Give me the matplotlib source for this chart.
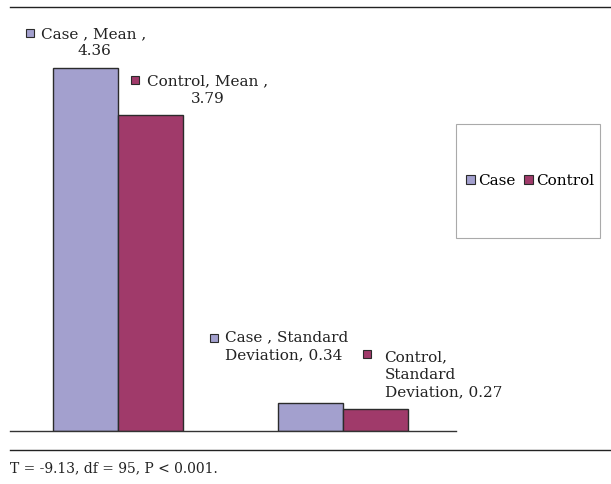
import matplotlib
matplotlib.use("Agg")
import matplotlib.pyplot as plt
from matplotlib.patches import Rectangle, Patch
from matplotlib.lines import Line2D
from matplotlib.transforms import offset_copy

groups = ["Mean", "Standard Deviation"]
series = ["Case", "Control"]
case_vals = [4.36, 0.34]
control_vals = [3.79, 0.27]
footnote = "T = -9.13, df = 95, P < 0.001."

case_color = "#A3A0CE"
control_color = "#A03A6A"
edge = "#2b2b2b"

W, H = 611, 484
plt.rcParams['font.family'] = ['DejaVu Serif']
fig = plt.figure(figsize=(W / 100, H / 100), dpi=100)

def fx(px):
    return px / W

def fy(py):
    return 1 - py / H

ax = fig.add_axes([fx(10), fy(431), fx(456) - fx(10), fy(20) - fy(431)])
w = 0.289
x = [0, 1]
ax.bar([xi - w / 2 for xi in x], case_vals, width=w, color=case_color,
       edgecolor=edge, linewidth=1.0, zorder=2)
ax.bar([xi + w / 2 for xi in x], control_vals, width=w, color=control_color,
       edgecolor=edge, linewidth=1.0, zorder=2)
ax.set_xlim(-0.48, 1.502)
ax.set_ylim(0, (431 - 20) / 83.3)
for s in ["top", "right", "left"]:
    ax.spines[s].set_visible(False)
ax.spines["bottom"].set_color("#333333")
ax.spines["bottom"].set_linewidth(1.0)
ax.set_xticks([])
ax.set_yticks([])

fs = 11

def label(xd, yd, text, tdx, tdy, mdx, mdy, color, ha):
    tt = offset_copy(ax.transData, fig=fig, x=tdx, y=tdy, units='dots')
    ax.text(xd, yd, text, transform=tt, ha=ha, va='center', fontsize=fs,
            color="#222222", linespacing=1.3)
    mt = offset_copy(ax.transData, fig=fig, x=mdx, y=mdy, units='dots')
    ax.plot([xd], [yd], marker='s', markersize=6, markerfacecolor=color,
            markeredgecolor=edge, markeredgewidth=0.8, transform=mt,
            clip_on=False, linestyle='none')

# Mean labels
label(x[0] - w / 2, case_vals[0], "Case , Mean ,\n4.36", 8.5, 25, -55.5, 35,
      case_color, 'center')
label(x[0] + w / 2, control_vals[0], "Control, Mean ,\n3.79", 57, 25, -16, 35,
      control_color, 'center')
# SD labels
label(x[1] - w / 2, case_vals[1], "Case , Standard\nDeviation, 0.34", -85.5, 56.5,
      -96.5, 65, case_color, 'left')
label(x[1] + w / 2, control_vals[1], "Control,\nStandard\nDeviation, 0.27", 9, 33.5,
      -9, 55, control_color, 'left')

# Legend box
fig.add_artist(Rectangle((fx(456), fy(238)), fx(600) - fx(456), fy(124) - fy(238),
                         transform=fig.transFigure, facecolor='white',
                         edgecolor='#aaaaaa', linewidth=0.8))
handles = [Patch(facecolor=case_color, edgecolor=edge, linewidth=0.8),
           Patch(facecolor=control_color, edgecolor=edge, linewidth=0.8)]
fig.legend(handles, series, loc='center', bbox_to_anchor=(fx(530), fy(181)),
           ncol=2, frameon=False, fontsize=fs, handlelength=0.6, handleheight=0.6,
           handletextpad=0.15, columnspacing=0.6, borderpad=0)

# Rules
fig.add_artist(Line2D([fx(10), 1], [fy(7), fy(7)], color='#222222', linewidth=1.0))
fig.add_artist(Line2D([fx(10), 1], [fy(450), fy(450)], color='#222222', linewidth=1.0))
fig.text(fx(10), fy(468), footnote, ha='left', va='center', fontsize=10, color='#222222')

fig.savefig("out.png", dpi=100)
